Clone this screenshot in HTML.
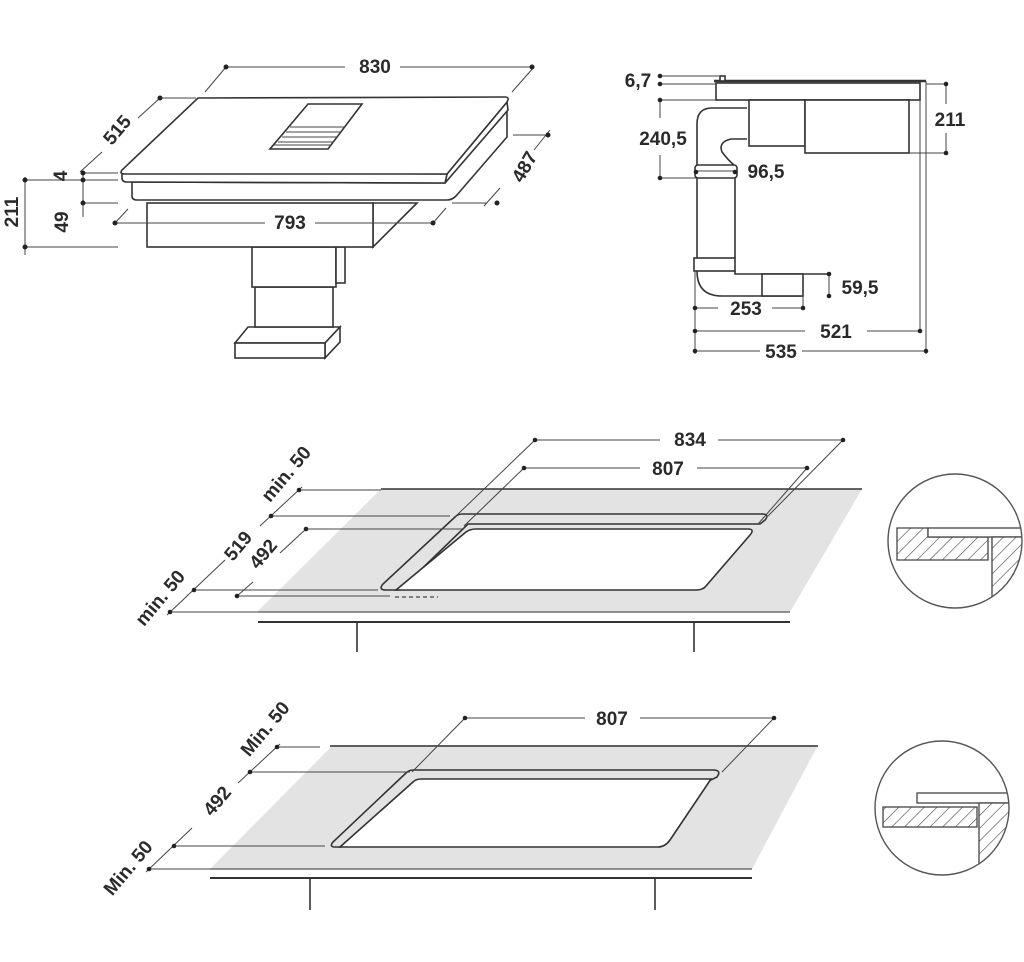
<!DOCTYPE html>
<html><head><meta charset="utf-8"><style>
html,body{margin:0;padding:0;background:#fff}
svg{display:block}
text{font-family:"Liberation Sans",sans-serif;font-size:19px;fill:#2a2a2a;font-weight:bold}
.l{stroke:#333;stroke-width:1.6;fill:none}
.t{stroke:#444;stroke-width:1;fill:none}
.w{stroke:#333;stroke-width:1.6;fill:#fff}
</style></head><body>
<svg width="1024" height="962" viewBox="0 0 1024 962" xmlns="http://www.w3.org/2000/svg">
<defs>
<pattern id="h" width="9" height="9" patternUnits="userSpaceOnUse" patternTransform="rotate(45)">
<rect width="9" height="9" fill="#fff"/><line x1="0" y1="0" x2="0" y2="9" stroke="#444" stroke-width="1.2"/></pattern>
<clipPath id="c1"><circle cx="955" cy="541" r="67"/></clipPath>
<clipPath id="c2"><circle cx="942" cy="808" r="67"/></clipPath>
</defs>

<!-- ===== TOP LEFT HOB ===== -->
<g>
<polygon class="w" points="235,343 248,327 340,327 325,343"/>
<polygon class="w" points="325,343 340,327 340,342 325,358"/>
<rect class="w" x="235" y="343" width="90" height="15"/>
<rect class="w" x="255" y="287" width="78" height="40"/>
<rect class="w" x="252" y="247" width="84" height="40"/>
<rect class="w" x="336" y="247" width="9" height="36"/>
<polygon class="w" points="373,203 417,203 373,247"/>
<rect class="w" x="147" y="203" width="226" height="44"/>
<path class="w" d="M132,182 L132,196 Q132,200 137,200 L447,200 Q452,200 456,196 L507,137 L507,108 L445,183 Z"/>
<path class="w" d="M507,102 L508,110 L445,183 L447,174 Z"/>
<path class="w" d="M122,172 L122,178 Q122,182 127,182 L445,183 L447,174 Z"/>
<path class="w" d="M198,98 L505,97 Q510,97 507,102 L447,174 L125,174 Q119,174 122,170 Z"/>
<polygon class="w" points="308,104 362,104 328,149 270,149"/>
<g class="t"><line x1="290" y1="127" x2="345" y2="127"/><line x1="286" y1="132" x2="341" y2="132"/><line x1="282" y1="137" x2="337" y2="137"/><line x1="278" y1="142" x2="334" y2="142"/><line x1="274" y1="145" x2="331" y2="145"/></g>
<g class="t">
<line x1="226" y1="67" x2="345" y2="67"/><line x1="400" y1="67" x2="532" y2="67"/>
<line x1="205" y1="92" x2="226" y2="67"/><line x1="512" y1="92" x2="534" y2="67"/>
<line x1="160" y1="98" x2="196" y2="98"/>
<line x1="160" y1="98" x2="138" y2="118"/><line x1="102" y1="152" x2="80" y2="172"/>
<line x1="83" y1="172" x2="83" y2="217"/>
<line x1="83" y1="173" x2="118" y2="173"/><line x1="83" y1="180" x2="118" y2="180"/><line x1="83" y1="203" x2="118" y2="203"/>
<line x1="25" y1="177" x2="25" y2="255"/>
<line x1="25" y1="180" x2="110" y2="180"/><line x1="25" y1="247" x2="118" y2="247"/>
<line x1="115" y1="223" x2="265" y2="223"/><line x1="315" y1="223" x2="433" y2="223"/>
<line x1="115" y1="223" x2="128" y2="209"/><line x1="433" y1="223" x2="446" y2="208"/>
<line x1="513" y1="135" x2="550" y2="135"/><line x1="452" y1="203" x2="487" y2="203"/>
<line x1="550" y1="130" x2="534" y2="150"/><line x1="500" y1="188" x2="484" y2="206"/>
</g>
<g fill="#222"><circle cx="226" cy="67" r="2.5"/><circle cx="532" cy="67" r="2.5"/><circle cx="160" cy="98" r="2.5"/><circle cx="83" cy="173" r="2.5"/><circle cx="83" cy="180" r="2.5"/><circle cx="83" cy="203" r="2.5"/><circle cx="25" cy="180" r="2.5"/><circle cx="25" cy="247" r="2.5"/><circle cx="115" cy="223" r="2.5"/><circle cx="433" cy="223" r="2.5"/><circle cx="548" cy="135" r="2.5"/><circle cx="497" cy="203" r="2.5"/></g>
<text x="375" y="73" text-anchor="middle">830</text>
<text x="290" y="229" text-anchor="middle">793</text>
<text transform="translate(122,134) rotate(-50)" text-anchor="middle">515</text>
<text transform="translate(67,176) rotate(-90)" text-anchor="middle">4</text>
<text transform="translate(68,222) rotate(-90)" text-anchor="middle">49</text>
<text transform="translate(18,212) rotate(-90)" text-anchor="middle">211</text>
<text transform="translate(530,170) rotate(-60)" text-anchor="middle">487</text>
</g>

<!-- ===== TOP RIGHT SIDE VIEW ===== -->
<g>
<line class="l" x1="714" y1="81" x2="926" y2="81" style="stroke-width:2.4"/>
<rect class="w" x="716" y="83" width="204" height="17"/>
<rect class="w" x="720" y="76" width="5" height="5"/>
<rect class="w" x="749" y="100" width="56" height="46"/>
<rect class="w" x="805" y="100" width="104" height="53"/>
<path class="l" d="M747,108 L712,108 Q697,108 697,124 L697,165"/>
<path class="l" d="M747,139 L731,139 Q718,142 722,152 Q728,160 734,165"/>
<rect class="w" x="695" y="165" width="42" height="13" rx="3"/>
<line class="t" x1="695" y1="171" x2="737" y2="171"/>
<line class="l" x1="697" y1="178" x2="697" y2="258"/><line class="l" x1="735" y1="178" x2="735" y2="258"/>
<rect class="w" x="694" y="258" width="41" height="13"/>
<path class="l" d="M697,271 Q697,296 722,296 L803,296"/>
<path class="l" d="M735,271 L735,274 L828,274"/>
<rect class="w" x="762" y="274" width="41" height="22"/>
<line class="t" x1="920" y1="100" x2="920" y2="331"/><line class="t" x1="926" y1="81" x2="926" y2="354"/>
<g class="t">
<line x1="660" y1="76" x2="719" y2="76"/><line x1="660" y1="84" x2="716" y2="84"/>
<line x1="660" y1="100" x2="716" y2="100"/><line x1="660" y1="100" x2="660" y2="118"/><line x1="660" y1="155" x2="660" y2="178"/>
<line x1="660" y1="178" x2="696" y2="178"/>
<line x1="926" y1="84" x2="948" y2="84"/><line x1="909" y1="153" x2="948" y2="153"/>
<line x1="946" y1="84" x2="946" y2="104"/><line x1="946" y1="133" x2="946" y2="153"/>
<line x1="829" y1="274" x2="829" y2="296"/>
<line x1="695" y1="271" x2="695" y2="354"/>
<line x1="695" y1="308" x2="718" y2="308"/><line x1="772" y1="308" x2="803" y2="308"/><line x1="803" y1="296" x2="803" y2="310"/>
<line x1="695" y1="331" x2="805" y2="331"/><line x1="867" y1="331" x2="920" y2="331"/>
<line x1="695" y1="351" x2="760" y2="351"/><line x1="802" y1="351" x2="926" y2="351"/>
</g>
<g fill="#222"><circle cx="660" cy="76" r="2.3"/><circle cx="660" cy="84" r="2.3"/><circle cx="660" cy="100" r="2.3"/><circle cx="660" cy="178" r="2.3"/><circle cx="696" cy="172" r="2.3"/><circle cx="735" cy="172" r="2.3"/><circle cx="946" cy="84" r="2.3"/><circle cx="946" cy="153" r="2.3"/><circle cx="829" cy="274" r="2.3"/><circle cx="829" cy="296" r="2.3"/><circle cx="695" cy="308" r="2.3"/><circle cx="803" cy="308" r="2.3"/><circle cx="695" cy="331" r="2.3"/><circle cx="920" cy="331" r="2.3"/><circle cx="695" cy="351" r="2.3"/><circle cx="926" cy="351" r="2.3"/></g>
<text x="638" y="87" text-anchor="middle">6,7</text>
<text x="663" y="145" text-anchor="middle">240,5</text>
<text x="766" y="178" text-anchor="middle">96,5</text>
<text x="950" y="126" text-anchor="middle">211</text>
<text x="860" y="294" text-anchor="middle">59,5</text>
<text x="746" y="315" text-anchor="middle">253</text>
<text x="836" y="338" text-anchor="middle">521</text>
<text x="781" y="358" text-anchor="middle">535</text>
</g>

<!-- ===== MIDDLE ===== -->
<g>
<polygon points="381,489 862,489 790,612 257,612" fill="#e3e3e3"/>
<line class="l" x1="381" y1="489" x2="862" y2="489"/>
<line x1="258" y1="612" x2="790" y2="612" stroke="#555" stroke-width="1.2"/>
<line x1="258" y1="622" x2="790" y2="622" stroke="#333" stroke-width="2"/>
<line class="l" x1="357" y1="622" x2="357" y2="652"/><line class="l" x1="694" y1="622" x2="694" y2="652"/>
<path class="w" d="M462,514 L762,514 Q770,514 765,520 L760,524 L468,524 L400,590 L386,590 Q378,590 383,584 L455,517 Q458,514 462,514 Z" style="fill:#e3e3e3"/>
<path class="w" d="M476,529 L748,529 Q755,529 750,535 L706,586 Q703,590 696,590 L396,590 L466,532 Q470,529 476,529 Z"/>
<line x1="395" y1="597" x2="438" y2="597" stroke="#444" stroke-width="1.3" stroke-dasharray="4,3"/>
<g class="t">
<line x1="299" y1="490" x2="381" y2="490"/><line x1="271" y1="516" x2="450" y2="516"/>
<line x1="306" y1="529" x2="462" y2="529"/><line x1="194" y1="590" x2="378" y2="590"/>
<line x1="237" y1="596" x2="390" y2="596"/><line x1="170" y1="612" x2="258" y2="612"/>
<line x1="302" y1="487" x2="260" y2="526"/><line x1="225" y1="560" x2="167" y2="615"/>
<line x1="306" y1="529" x2="280" y2="553"/><line x1="253" y1="582" x2="237" y2="596"/>
<line x1="535" y1="440" x2="660" y2="440"/><line x1="718" y1="440" x2="843" y2="440"/>
<line x1="524" y1="468" x2="640" y2="468"/><line x1="697" y1="468" x2="807" y2="468"/>
<line x1="535" y1="440" x2="456" y2="516"/><line x1="843" y1="440" x2="768" y2="516"/>
<line x1="524" y1="468" x2="464" y2="526"/><line x1="807" y1="468" x2="758" y2="524"/>
</g>
<g fill="#222"><circle cx="299" cy="490" r="2.3"/><circle cx="271" cy="516" r="2.3"/><circle cx="306" cy="529" r="2.3"/><circle cx="194" cy="590" r="2.3"/><circle cx="237" cy="596" r="2.3"/><circle cx="170" cy="612" r="2.3"/><circle cx="535" cy="440" r="2.3"/><circle cx="843" cy="440" r="2.3"/><circle cx="524" cy="468" r="2.3"/><circle cx="807" cy="468" r="2.3"/></g>
<text x="690" y="446" text-anchor="middle">834</text>
<text x="668" y="475" text-anchor="middle">807</text>
<text transform="translate(291,478) rotate(-50)" text-anchor="middle">min. 50</text>
<text transform="translate(243,550) rotate(-50)" text-anchor="middle">519</text>
<text transform="translate(268,558) rotate(-50)" text-anchor="middle">492</text>
<text transform="translate(165,602) rotate(-50)" text-anchor="middle">min. 50</text>
<g clip-path="url(#c1)">
<path d="M897,528 L928,528 L928,537 L988,537 L988,560 L897,560 Z" fill="url(#h)" stroke="#444" stroke-width="1.3"/>
<rect x="928" y="528" width="100" height="9" fill="#fff" stroke="#444" stroke-width="1.3"/>
<rect x="992" y="537" width="40" height="80" fill="url(#h)" stroke="#444" stroke-width="1.3"/>
</g>
<circle cx="955" cy="541" r="67" fill="none" stroke="#555" stroke-width="1.4"/>
</g>

<!-- ===== BOTTOM ===== -->
<g>
<polygon points="333,745 818,745 752,869 210,869" fill="#e3e3e3"/>
<line class="l" x1="330" y1="746" x2="818" y2="746"/>
<line x1="210" y1="869" x2="752" y2="869" stroke="#555" stroke-width="1.2"/>
<line x1="210" y1="878" x2="752" y2="878" stroke="#333" stroke-width="2"/>
<line class="l" x1="310" y1="878" x2="310" y2="910"/><line class="l" x1="655" y1="878" x2="655" y2="910"/>
<path class="w" d="M413,770 L713,770 Q722,770 717,777 L711,780 L418,780 L341,847 L335,847 Q329,847 333,842 L406,773 Q409,770 413,770 Z" style="fill:#e3e3e3"/>
<path class="w" d="M421,779 L711,779 L670,840 Q665,847 658,847 L340,847 L413,782 Q416,779 421,779 Z"/>
<g class="t">
<line x1="277" y1="747" x2="320" y2="747"/><line x1="250" y1="772" x2="410" y2="772"/>
<line x1="174" y1="846" x2="325" y2="846"/><line x1="149" y1="869" x2="210" y2="869"/>
<line x1="280" y1="744" x2="238" y2="783"/><line x1="192" y1="828" x2="146" y2="872"/>
<line x1="465" y1="718" x2="585" y2="718"/><line x1="640" y1="718" x2="774" y2="718"/>
<line x1="465" y1="718" x2="412" y2="772"/><line x1="774" y1="718" x2="722" y2="772"/>
</g>
<g fill="#222"><circle cx="277" cy="747" r="2.3"/><circle cx="250" cy="772" r="2.3"/><circle cx="174" cy="846" r="2.3"/><circle cx="149" cy="869" r="2.3"/><circle cx="465" cy="718" r="2.3"/><circle cx="774" cy="718" r="2.3"/></g>
<text x="612" y="725" text-anchor="middle">807</text>
<text transform="translate(270,733) rotate(-50)" text-anchor="middle">Min. 50</text>
<text transform="translate(222,805) rotate(-50)" text-anchor="middle">492</text>
<text transform="translate(133,872) rotate(-50)" text-anchor="middle">Min. 50</text>
<g clip-path="url(#c2)">
<rect x="917" y="793" width="100" height="10" fill="#fff" stroke="#444" stroke-width="1.3"/>
<rect x="883" y="807" width="94" height="20" fill="url(#h)" stroke="#444" stroke-width="1.3"/>
<rect x="979" y="803" width="40" height="80" fill="url(#h)" stroke="#444" stroke-width="1.3"/>
</g>
<circle cx="942" cy="808" r="67" fill="none" stroke="#555" stroke-width="1.4"/>
</g>
</svg>
</body></html>
